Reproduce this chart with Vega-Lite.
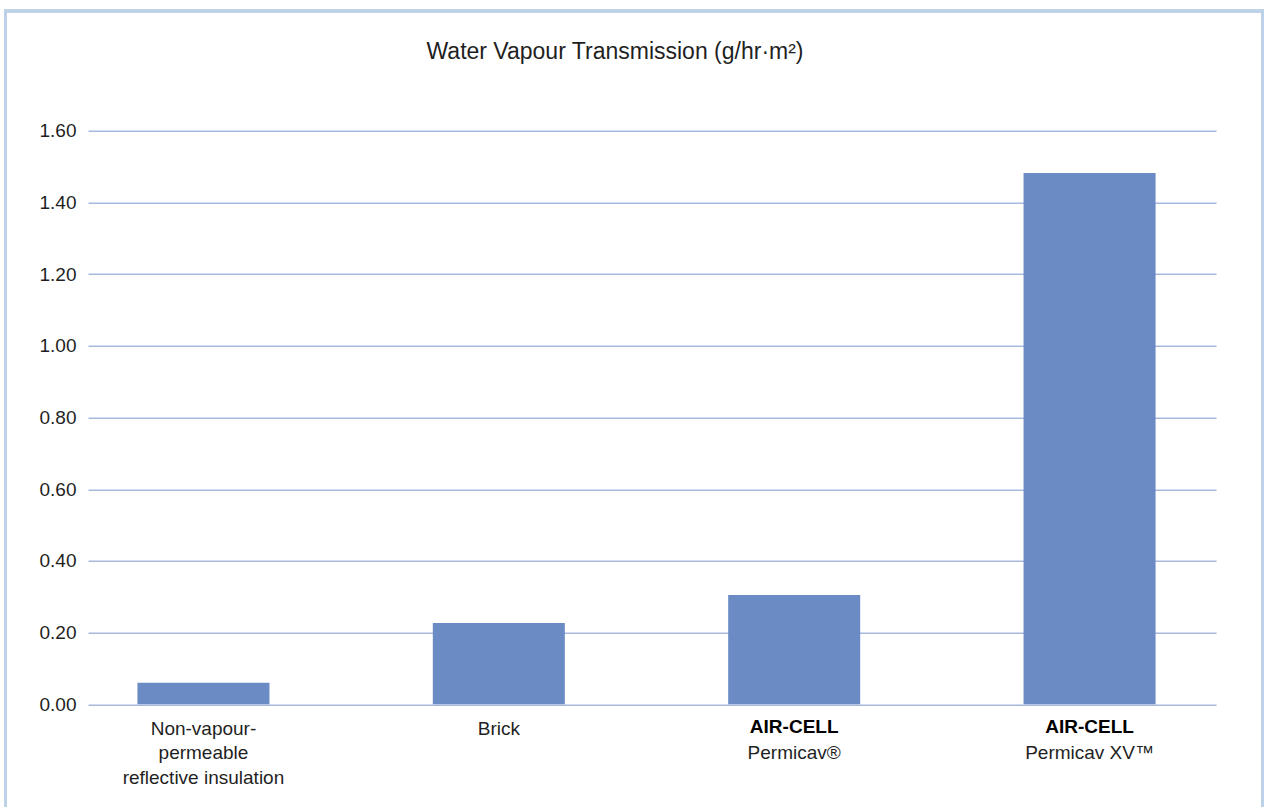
{
  "$schema": "https://vega.github.io/schema/vega-lite/v6.json",
  "autosize": {"type": "none"},
  "padding": {"left": 88, "top": 130.7, "right": 52, "bottom": 102.7},
  "width": 1128,
  "height": 573.6,
  "background": "white",
  "title": {
    "text": "Water Vapour Transmission (g/hr·m²)",
    "font": "Liberation Sans",
    "fontSize": 23,
    "fontWeight": "normal",
    "color": "#1f1f1f",
    "anchor": "middle",
    "frame": "group",
    "baseline": "alphabetic",
    "offset": -72.5,
    "dx": -37
  },
  "data": {
    "values": [
      {"material": "Non-vapour-permeable reflective insulation", "brand": "", "value": 0.06},
      {"material": "Brick", "brand": "", "value": 0.227},
      {"material": "AIR-CELL Permicav®", "brand": "AIR-CELL", "value": 0.305},
      {"material": "AIR-CELL Permicav XV™", "brand": "AIR-CELL", "value": 1.482}
    ]
  },
  "layer": [
    {
      "layer": [
        {
          "mark": {"type": "bar", "color": "#6a8bc4"},
          "encoding": {
            "x": {
              "field": "material",
              "type": "nominal",
              "sort": null,
              "scale": {"paddingInner": 0.553, "paddingOuter": 0.186, "align": 0.45},
              "axis": {
                "title": null,
                "domain": false,
                "ticks": false,
                "tickSize": 0,
                "grid": false,
                "labelAngle": 0,
                "labelFont": "Liberation Sans",
                "labelFontSize": 19,
                "labelColor": "#1f1f1f",
                "labelBaseline": "alphabetic",
                "labelPadding": 29.7,
                "labelLineHeight": 24.5,
                "labelLimit": 0,
                "labelExpr": "datum.value == 'Non-vapour-permeable reflective insulation' ? ['Non-vapour-', 'permeable', 'reflective insulation'] : datum.value == 'AIR-CELL Permicav®' ? ['', 'Permicav®'] : datum.value == 'AIR-CELL Permicav XV™' ? ['', 'Permicav XV™'] : datum.value"
              }
            },
            "y": {
              "field": "value",
              "type": "quantitative",
              "scale": {"domain": [0, 1.6], "nice": false},
              "axis": {
                "title": null,
                "values": [0, 0.2, 0.4, 0.6, 0.8, 1.0, 1.2, 1.4, 1.6],
                "format": ".2f",
                "domain": false,
                "ticks": false,
                "tickSize": 0,
                "grid": true,
                "gridColor": "#a8b9de",
                "gridWidth": 1.5,
                "labelFont": "Liberation Sans",
                "labelFontSize": 19,
                "labelColor": "#1f1f1f",
                "labelPadding": 12
              }
            }
          }
        },
        {
          "transform": [{"filter": "datum.brand == 'AIR-CELL'"}],
          "mark": {
            "type": "text",
            "font": "Liberation Sans",
            "fontSize": 19,
            "fontWeight": "bold",
            "color": "#000000",
            "baseline": "alphabetic",
            "align": "center",
            "dy": 28.7
          },
          "encoding": {
            "x": {"field": "material", "type": "nominal", "sort": null},
            "y": {"datum": 0, "type": "quantitative"},
            "text": {"field": "brand", "type": "nominal"}
          }
        }
      ]
    },
    {
      "mark": {"type": "rect", "fill": null, "stroke": "#bdd1e8", "strokeWidth": 3, "clip": false},
      "encoding": {
        "x": {"datum": -0.07314, "type": "quantitative", "scale": {"domain": [0, 1], "nice": false, "zero": false}, "axis": null},
        "x2": {"datum": 1.04122},
        "y": {"datum": 1.9339, "type": "quantitative"},
        "y2": {"datum": -0.3506}
      }
    }
  ],
  "resolve": {"scale": {"x": "independent"}},
  "config": {
    "view": {"stroke": null}
  }
}
